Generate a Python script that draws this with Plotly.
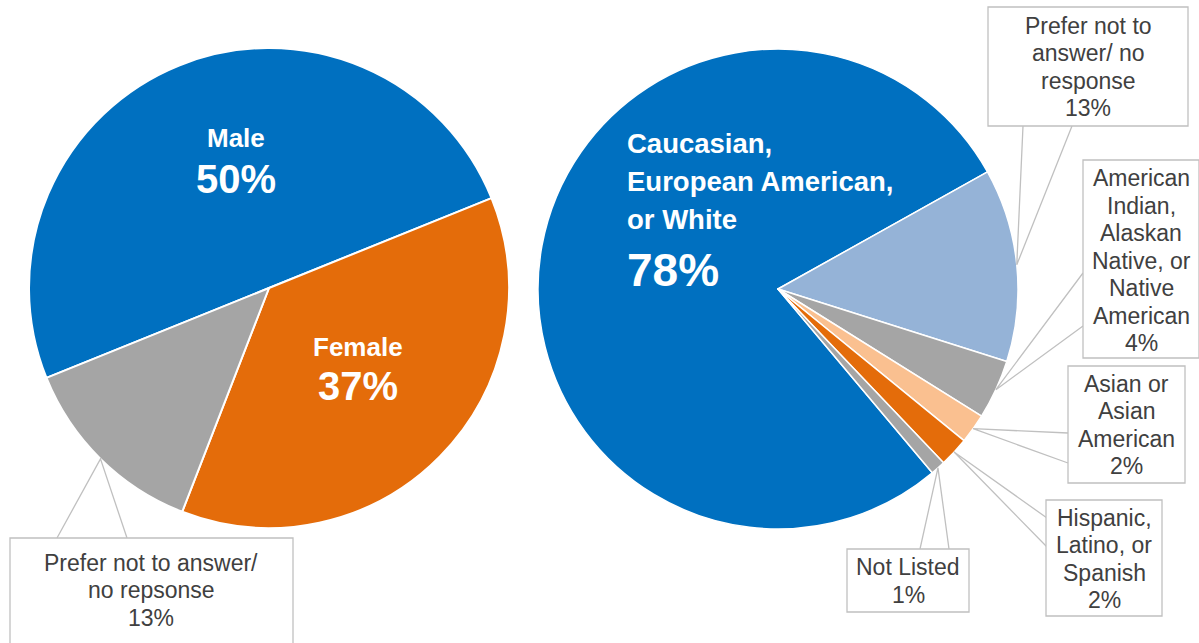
import math
import plotly.graph_objects as go

W, H = 1199, 643
FONT = "Arial, 'Liberation Sans', sans-serif"

# ---------------- data ----------------
gender_labels = ["Male", "Female", "Prefer not to answer/<br>no repsonse"]
gender_values = [50, 37, 13]
gender_colors = ["#0070C0", "#E46C0A", "#A5A5A5"]

race_labels = [
    "Caucasian,<br>European American,<br>or White",
    "Prefer not to<br>answer/ no<br>response",
    "American<br>Indian,<br>Alaskan<br>Native, or<br>Native<br>American",
    "Asian or<br>Asian<br>American",
    "Hispanic,<br>Latino, or<br>Spanish",
    "Not Listed",
]
race_values = [78, 13, 4, 2, 2, 1]
race_colors = ["#0070C0", "#95B3D7", "#A5A5A5", "#FAC090", "#E46C0A", "#A5A5A5"]

# ---------------- layout helpers (pixels -> paper) ----------------
def px(x):
    return x / W


def py(y):
    return 1 - y / H


LEFT_DOM = (29, 509, 48, 528)    # x0, x1, y0, y1 in pixels
RIGHT_DOM = (538, 1018, 49, 529)
LEFT_ROT = 248
RIGHT_ROT = 140


def dom(d):
    x0, x1, y0, y1 = d
    return dict(x=[px(x0), px(x1)], y=[py(y1), py(y0)])


def mid_point(d, rot, values, i):
    x0, x1, y0, y1 = d
    cx, cy = (x0 + x1) / 2, (y0 + y1) / 2
    r = min(x1 - x0, y1 - y0) / 2
    tot = sum(values)
    a = rot + (sum(values[:i]) + values[i] / 2) / tot * 360
    a = math.radians(a)
    return cx + r * math.sin(a), cy - r * math.cos(a)


def plain(s):
    return s.replace("<br>", " ").replace("  ", " ")


fig = go.Figure()
fig.add_trace(go.Pie(
    labels=[plain(l) for l in gender_labels], values=gender_values,
    marker=dict(colors=gender_colors, line=dict(color="white", width=2)),
    sort=False, direction="clockwise", rotation=LEFT_ROT,
    textinfo="none", domain=dom(LEFT_DOM), showlegend=False,
))
fig.add_trace(go.Pie(
    labels=[plain(l) for l in race_labels], values=race_values,
    marker=dict(colors=race_colors, line=dict(color="white", width=1.5)),
    sort=False, direction="clockwise", rotation=RIGHT_ROT,
    textinfo="none", domain=dom(RIGHT_DOM), showlegend=False,
))

annotations = []
shapes = []


def inside(text, x, y, size, anchor="center"):
    annotations.append(dict(
        text="<b>%s</b>" % text, x=px(x), y=py(y), xref="paper", yref="paper",
        xanchor=anchor, yanchor="middle", showarrow=False, align="left",
        font=dict(family=FONT, size=size, color="white"),
    ))


# inside labels
inside(gender_labels[0], 236, 138, 26)
inside("%d%%" % gender_values[0], 236, 179, 40)
inside(gender_labels[1], 358, 347, 26)
inside("%d%%" % gender_values[1], 358, 386, 40)
for k, line in enumerate(race_labels[0].split("<br>")):
    inside(line, 625, 143 + k * 38.5, 27.5, anchor="left")
inside("%d%%" % race_values[0], 625, 270, 46, anchor="left")

LINE_COL = "#C0C0C0"
TEXT_COL = "#404040"
LINE_H = 27.5


def callout(text, box, text_cy, ends, apex):
    x0, x1, y0, y1 = box
    (ax, ay) = apex
    (e1x, e1y), (e2x, e2y) = ends
    shapes.append(dict(
        type="path", xref="paper", yref="paper",
        path="M %f %f L %f %f L %f %f" % (px(e1x), py(e1y), px(ax), py(ay), px(e2x), py(e2y)),
        line=dict(color=LINE_COL, width=1.3),
    ))
    shapes.append(dict(
        type="rect", xref="paper", yref="paper",
        x0=px(x0), x1=px(x1), y0=py(y1), y1=py(y0),
        line=dict(color=LINE_COL, width=1.3), fillcolor="white",
    ))
    lines = text.split("<br>")
    n = len(lines)
    for k, line in enumerate(lines):
        annotations.append(dict(
            text=line, x=px((x0 + x1) / 2), y=py(text_cy + (k - (n - 1) / 2) * LINE_H),
            xref="paper", yref="paper", xanchor="center", yanchor="middle",
            showarrow=False, font=dict(family=FONT, size=23, color=TEXT_COL),
        ))


callout("%s<br>%d%%" % (gender_labels[2], gender_values[2]),
        (10, 293, 538, 650), 590, [(57, 538), (127, 538)],
        mid_point(LEFT_DOM, LEFT_ROT, gender_values, 2))

race_boxes = {
    1: ((988, 1188, 7, 126), 67, [(1023, 126), (1072, 126)]),
    2: ((1083, 1199, 160, 358), 260.5, [(1083, 273), (1083, 326)]),
    3: ((1068, 1185, 366, 483), 425, [(1068, 433), (1068, 463)]),
    4: ((1046, 1162, 500, 616), 559, [(1047, 518), (1047, 547)]),
    5: ((847, 969, 549, 612), 581, [(920, 549), (949, 549)]),
}
for i, (box, cy, ends) in race_boxes.items():
    callout("%s<br>%d%%" % (race_labels[i], race_values[i]), box, cy, ends,
            mid_point(RIGHT_DOM, RIGHT_ROT, race_values, i))

fig.update_layout(
    width=W, height=H, margin=dict(l=0, r=0, t=0, b=0),
    paper_bgcolor="white", plot_bgcolor="white",
    annotations=annotations, shapes=shapes,
)

fig.write_html(
    "out.html",
    config={"displayModeBar": False},
    post_script="document.body.style.margin='0';document.body.style.overflow='hidden';",
)
